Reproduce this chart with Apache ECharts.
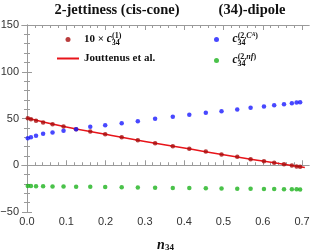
<!DOCTYPE html>
<html><head><meta charset="utf-8">
<script src="https://cdn.jsdelivr.net/npm/echarts@6/dist/echarts.min.js"></script>
<style>html,body{margin:0;padding:0;background:#fff}#c{width:312px;height:252px}</style>
</head><body><div id="c"></div>
<script>
// ---- data ----
const n34 = [0.002,0.010,0.023,0.041,0.065,0.093,0.125,0.161,0.199,0.241,0.282,0.326,0.371,0.413,0.455,0.495,0.535,0.569,0.603,0.629,0.654,0.674,0.686,0.695];
const c1x10 = [50.3,49.3,47.5,45.7,43.9,41.4,38.5,36.0,33.2,30.0,26.8,23.6,20.3,17.6,14.7,11.5,9.0,6.4,4.3,2.6,1.1,-0.3,-1.4,-1.7];
const cCA = [28.9,30.0,31.5,33.6,35.0,36.8,38.5,41.1,42.8,45.0,47.1,49.7,51.8,53.9,56.1,57.8,59.6,61.5,62.8,64.2,65.3,66.4,67.1,67.3];
const cnf = [-22.3,-22.3,-22.4,-22.5,-22.6,-22.7,-22.9,-23.1,-23.3,-23.6,-23.8,-24.0,-24.2,-24.4,-24.6,-24.8,-25.0,-25.2,-25.4,-25.5,-25.7,-25.8,-25.8,-25.9];
const joutX = [0.0,0.1,0.2,0.3,0.4,0.5,0.6,0.707];
const joutY = [50.6,40.9,33.1,25.5,18.5,11.2,4.5,-2.4];
const xMajor = [0.0,0.1,0.2,0.3,0.4,0.5,0.6,0.7];
const xMinor = [0.02,0.04,0.06,0.08,0.12,0.14,0.16,0.18,0.22,0.24,0.26,0.28,0.32,0.34,0.36,0.38,0.42,0.44,0.46,0.48,0.52,0.54,0.56,0.58,0.62,0.64,0.66,0.68];
const yMin = -50, yMax = 150, yStep = 50;
const xMin = -0.0127, xMax = 0.7176;

const gray = '#9a9a9a';
const serif = 'Liberation Serif';
const pairs = (xs, ys) => xs.map((x, i) => [x, ys[i]]);

const richBase = {
  b: {fontFamily: serif, fontWeight: 'bold', fontSize: 11, color: '#111', lineHeight: 15},
  c: {fontFamily: serif, fontWeight: 'bold', fontStyle: 'italic', fontSize: 11.5, color: '#111', lineHeight: 15},
  sub: {fontFamily: serif, fontWeight: 'bold', fontSize: 8, color: '#111', verticalAlign: 'bottom', lineHeight: 7, width: 0.1},
  sup: {fontFamily: serif, fontWeight: 'bold', fontSize: 8, color: '#111', verticalAlign: 'top', lineHeight: 8},
  supi: {fontFamily: serif, fontWeight: 'bold', fontStyle: 'italic', fontSize: 8, color: '#111', verticalAlign: 'top', lineHeight: 8},
  supsub: {fontFamily: serif, fontWeight: 'bold', fontStyle: 'italic', fontSize: 5.5, color: '#111', verticalAlign: 'top', lineHeight: 11}
};
const legendText = {
  c1: '{b|10 × }{c|c}{sub|34}{sup|(1)}',
  jout: '{b|Jouttenus et al.}',
  cA: '{c|c}{sub|34}{sup|(2,}{supi|C}{supsub|A}{sup|)}',
  nf: '{c|c}{sub|34}{sup|(2,}{supi|nf}{sup|)}'
};

function xAxisDef(pos, values, len, labels) {
  return {
    type: 'value', position: pos, min: xMin, max: xMax,
    axisLine: {show: true, lineStyle: {color: gray, width: 1}},
    axisTick: {show: true, inside: true, length: len, lineStyle: {color: gray}, customValues: values},
    axisLabel: labels ? {show: true, customValues: values, formatter: v => v.toFixed(1), color: '#333', fontFamily: 'Liberation Sans', fontSize: 11, margin: 4} : {show: false},
    splitLine: {show: false}
  };
}
function yAxisDef(pos, labels) {
  return {
    type: 'value', position: pos, min: yMin, max: yMax, interval: yStep,
    axisLine: {show: true, lineStyle: {color: gray, width: 1}},
    axisTick: {show: true, inside: true, length: 5, lineStyle: {color: gray}},
    minorTick: {show: true, splitNumber: 5, length: 3, lineStyle: {color: gray}},
    axisLabel: labels ? {show: true, formatter: v => String(v).replace('-', '\u2212'), color: '#333', fontFamily: 'Liberation Sans', fontSize: 11, margin: 3} : {show: false},
    splitLine: {show: false}
  };
}

const xa0 = xAxisDef('bottom', xMajor, 5, true);
xa0.name = '{n|n}{s|34}';
xa0.nameLocation = 'middle';
xa0.nameGap = 26;
xa0.nameTextStyle = {rich: {
  n: {fontFamily: serif, fontStyle: 'italic', fontWeight: 'bold', fontSize: 14, color: '#111'},
  s: {fontFamily: serif, fontWeight: 'bold', fontSize: 9, color: '#111', verticalAlign: 'bottom', lineHeight: 12}
}};

const chart = echarts.init(document.getElementById('c'), null, {renderer: 'canvas'});
chart.setOption({
  animation: false,
  backgroundColor: '#fff',
  title: [
    {text: '2-jettiness (cis-cone)', left: 112, top: -2, textAlign: 'center',
     textStyle: {fontFamily: serif, fontWeight: 'bold', fontSize: 14.5, color: '#111'}},
    {text: '(34)-dipole', left: 247, top: -2, textAlign: 'center',
     textStyle: {fontFamily: serif, fontWeight: 'bold', fontSize: 14.5, color: '#111'}}
  ],
  grid: {left: 22, right: 3, top: 25, bottom: 40, containLabel: false, outerBoundsMode: 'none'},
  legend: [
    {data: ['c1', {name: 'jout', itemStyle: {opacity: 0}}], orient: 'vertical', left: 56, top: 32, padding: 0, itemWidth: 22, itemHeight: 5, itemGap: 6,
     formatter: n => legendText[n], textStyle: {rich: richBase}, selectedMode: false},
    {data: ['cA', 'nf'], orient: 'vertical', left: 214, top: 32, padding: 0, itemWidth: 22, itemHeight: 5, itemGap: 6,
     formatter: n => legendText[n], textStyle: {rich: richBase}, selectedMode: false}
  ],
  xAxis: [xa0, xAxisDef('bottom', xMinor, 3, false), xAxisDef('top', xMajor, 5, false), xAxisDef('top', xMinor, 3, false)],
  yAxis: [yAxisDef('left', true), yAxisDef('right', false)],
  series: [
    {name: 'jout', type: 'line', xAxisIndex: 0, yAxisIndex: 0, data: pairs(joutX, joutY), smooth: true,
     symbol: 'none', lineStyle: {color: '#e8141a', width: 1.5}, itemStyle: {color: '#e8141a'}, z: 2},
    {name: 'c1', type: 'scatter', xAxisIndex: 0, yAxisIndex: 0, data: pairs(n34, c1x10), symbol: 'circle', symbolSize: 4.5,
     itemStyle: {color: '#a80c0c'}, z: 3},
    {name: 'cA', type: 'scatter', xAxisIndex: 0, yAxisIndex: 0, data: pairs(n34, cCA), symbol: 'circle', symbolSize: 4.5,
     itemStyle: {color: '#1a1aff'}, z: 3},
    {name: 'nf', type: 'scatter', xAxisIndex: 0, yAxisIndex: 0, data: pairs(n34, cnf), symbol: 'circle', symbolSize: 4.5,
     itemStyle: {color: '#1db31d'}, z: 3}
  ]
});
</script></body></html>
